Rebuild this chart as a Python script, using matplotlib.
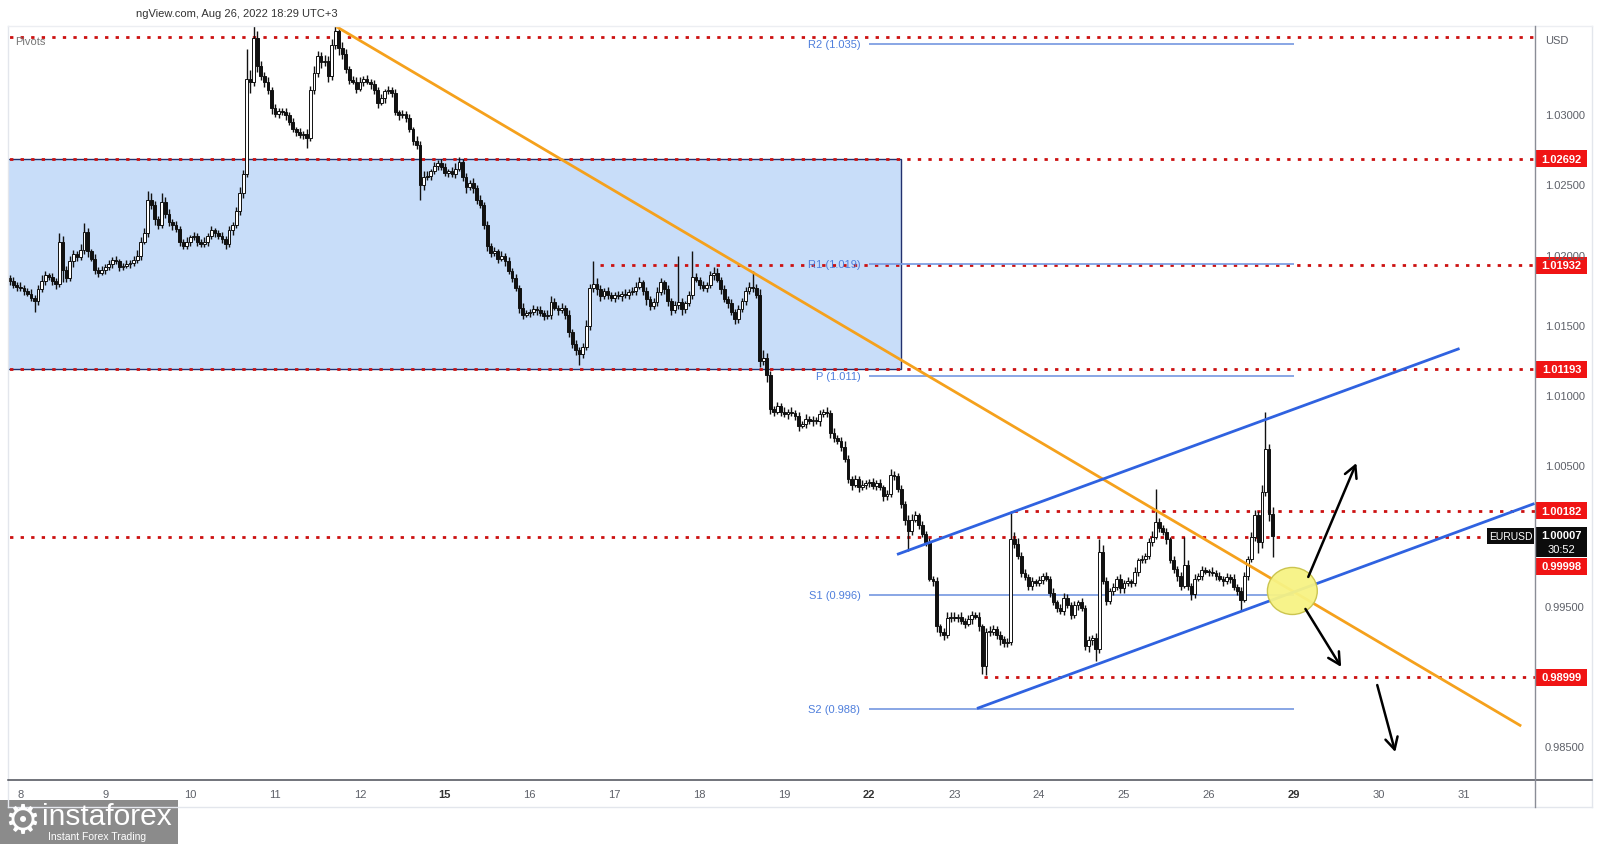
import numpy as np
import matplotlib
matplotlib.use('Agg')
import matplotlib.pyplot as plt
from matplotlib.patches import Rectangle, Ellipse
from matplotlib.lines import Line2D

plt.rcParams['font.family'] = ['Liberation Sans', 'DejaVu Sans']

# ---------------- data (EURUSD H1, prices in pips above 1.0000) ----------------
first_open = 184
closes_aug05 = [182, 179, 178]
closes_aug08 = [177, 175, 173, 170, 168, 176, 182, 186, 185, 182, 180, 210, 190, 184, 196, 201, 199, 204, 217, 203, 198, 190, 188, 190]
closes_aug09 = [192, 194, 197, 196, 192, 193, 194, 195, 197, 200, 210, 216, 240, 236, 226, 222, 238, 230, 224, 222, 219, 210, 207, 210]
closes_aug10 = [213, 214, 210, 208, 210, 214, 218, 216, 214, 212, 208, 218, 222, 232, 245, 258, 326, 324, 355, 335, 328, 324, 318, 305]
closes_aug11 = [301, 303, 302, 300, 295, 290, 288, 286, 287, 284, 318, 330, 342, 338, 339, 328, 350, 360, 348, 344, 333, 325, 324, 319]
closes_aug12 = [324, 326, 324, 322, 318, 309, 312, 317, 318, 316, 302, 300, 301, 298, 290, 282, 279, 250, 256, 257, 260, 264, 266, 263]
closes_aug15 = [259, 260, 258, 262, 267, 256, 249, 252, 248, 240, 236, 222, 207, 202, 203, 198, 200, 196, 189, 184, 177, 163, 158, 159]
closes_aug16 = [160, 162, 161, 159, 157, 158, 167, 163, 161, 163, 158, 146, 137, 133, 130, 135, 150, 177, 180, 176, 171, 175, 172, 170]
closes_aug17 = [172, 171, 173, 172, 174, 175, 178, 181, 175, 169, 164, 167, 174, 181, 176, 168, 161, 165, 167, 162, 166, 172, 185, 183]
closes_aug18 = [179, 177, 179, 186, 188, 183, 176, 169, 166, 160, 155, 162, 168, 175, 178, 177, 172, 125, 127, 115, 91, 89, 93, 89]
closes_aug19 = [87, 89, 88, 86, 79, 80, 84, 82, 83, 82, 87, 89, 88, 74, 70, 68, 64, 55, 41, 37, 41, 35, 37, 38]
closes_aug22 = [39, 36, 38, 35, 29, 30, 44, 43, 34, 23, 12, 4, 12, 15, 8, 2, -4, -30, -32, -64, -68, -70, -58, -57]
closes_aug23 = [-58, -57, -60, -62, -59, -56, -57, -64, -92, -68, -68, -66, -70, -73, -76, -75, -2, -5, -14, -26, -29, -35, -32, -33]
closes_aug24 = [-31, -28, -30, -40, -47, -51, -53, -44, -49, -56, -49, -47, -51, -78, -74, -72, -80, -11, -32, -46, -39, -36, -30, -37]
closes_aug25 = [-33, -32, -33, -25, -17, -16, -14, -4, 0, 10, 6, 3, -2, -17, -23, -28, -35, -20, -35, -41, -30, -28, -24, -25]
closes_aug26 = [-25, -26, -28, -30, -32, -29, -30, -36, -39, -45, -28, -16, 0, 15, -4, 32, 62, 16, 0.7]

upper_aug05 = [2, 3, 2]
upper_aug08 = [3, 2, 2, 3, 2, 3, 4, 3, 2, 3, 2, 6, 4, 3, 4, 3, 2, 4, 6, 3, 2, 3, 2, 3]
upper_aug09 = [2, 3, 2, 3, 2, 2, 3, 2, 3, 4, 3, 4, 6, 5, 3, 2, 7, 4, 3, 2, 3, 2, 2, 3]
upper_aug10 = [2, 3, 2, 2, 3, 2, 3, 2, 2, 3, 2, 3, 2, 3, 4, 3, 21, 6, 9, 5, 4, 3, 3, 2]
upper_aug11 = [3, 2, 2, 3, 2, 3, 2, 3, 2, 3, 3, 5, 4, 3, 4, 3, 4, 5, 3, 4, 3, 2, 3, 3]
upper_aug12 = [3, 2, 3, 2, 3, 2, 3, 2, 3, 2, 3, 2, 3, 2, 3, 2, 3, 3, 4, 3, 2, 3, 2, 3]
upper_aug15 = [3, 2, 3, 4, 3, 2, 3, 2, 3, 2, 3, 2, 3, 2, 3, 2, 3, 2, 3, 2, 3, 2, 3, 2]
upper_aug16 = [2, 3, 2, 3, 2, 3, 4, 3, 2, 3, 2, 3, 2, 3, 2, 3, 4, 3, 16, 4, 3, 2, 3, 2]
upper_aug17 = [2, 3, 2, 3, 2, 3, 3, 4, 2, 3, 2, 3, 4, 3, 2, 3, 2, 3, 33, 3, 2, 3, 18, 3]
upper_aug18 = [2, 3, 2, 3, 4, 3, 2, 3, 2, 3, 2, 3, 2, 3, 3, 11, 3, 4, 6, 4, 3, 2, 3, 2]
upper_aug19 = [3, 2, 3, 2, 3, 2, 3, 2, 3, 2, 3, 2, 3, 2, 3, 2, 3, 4, 3, 2, 3, 2, 3, 2]
upper_aug22 = [2, 3, 2, 3, 2, 3, 4, 3, 2, 3, 2, 3, 4, 3, 2, 3, 2, 3, 2, 3, 2, 3, 4, 3]
upper_aug23 = [3, 2, 3, 2, 3, 3, 2, 3, 2, 3, 4, 3, 2, 3, 2, 3, 20, 5, 4, 3, 3, 2, 3, 2]
upper_aug24 = [3, 2, 3, 2, 3, 2, 3, 4, 3, 2, 3, 2, 3, 2, 3, 2, 3, 9, 5, 3, 2, 3, 2, 3]
upper_aug25 = [2, 3, 2, 3, 2, 3, 2, 3, 4, 24, 3, 2, 3, 2, 3, 2, 3, 20, 3, 2, 3, 2, 3, 2]
upper_aug26 = [2, 3, 2, 3, 2, 3, 2, 3, 2, 3, 3, 2, 3, 4, 3, 5, 27, 4, 5]

lower_aug05 = [3, 2, 3]
lower_aug08 = [2, 3, 2, 2, 8, 3, 2, 3, 2, 3, 4, 2, 9, 3, 2, 4, 3, 2, 3, 4, 2, 3, 3, 2]
lower_aug09 = [3, 2, 3, 2, 3, 2, 2, 3, 2, 2, 3, 2, 3, 3, 4, 3, 2, 3, 3, 4, 2, 3, 2, 2]
lower_aug10 = [3, 2, 3, 2, 2, 3, 2, 3, 2, 3, 3, 2, 3, 2, 3, 4, 2, 8, 3, 4, 3, 4, 3, 4]
lower_aug11 = [2, 3, 2, 3, 2, 2, 3, 2, 3, 7, 2, 3, 3, 4, 3, 4, 3, 3, 5, 4, 3, 3, 2, 3]
lower_aug12 = [2, 3, 2, 3, 3, 4, 2, 3, 2, 3, 2, 3, 2, 3, 2, 3, 3, 10, 3, 2, 3, 2, 3, 2]
lower_aug15 = [2, 3, 2, 3, 2, 3, 4, 2, 3, 3, 2, 3, 4, 3, 2, 3, 2, 3, 2, 3, 2, 4, 3, 2]
lower_aug16 = [3, 2, 3, 2, 3, 2, 3, 2, 3, 2, 3, 4, 3, 4, 8, 3, 2, 3, 3, 4, 3, 2, 3, 2]
lower_aug17 = [3, 2, 3, 2, 3, 2, 3, 2, 3, 4, 3, 2, 3, 2, 3, 4, 3, 2, 3, 4, 3, 2, 3, 2]
lower_aug18 = [3, 2, 3, 2, 3, 2, 3, 2, 3, 2, 4, 3, 2, 3, 2, 3, 2, 4, 3, 5, 4, 3, 2, 3]
lower_aug19 = [2, 3, 2, 3, 4, 2, 3, 2, 3, 2, 3, 2, 3, 4, 3, 2, 3, 2, 3, 4, 2, 3, 2, 3]
lower_aug22 = [3, 2, 3, 2, 4, 3, 2, 3, 2, 3, 4, 14, 3, 2, 3, 2, 3, 2, 3, 4, 3, 4, 2, 3]
lower_aug23 = [2, 3, 2, 3, 2, 3, 2, 3, 6, 7, 3, 2, 3, 4, 3, 3, 2, 3, 2, 3, 2, 3, 3, 2]
lower_aug24 = [2, 3, 2, 3, 2, 3, 2, 3, 2, 3, 2, 3, 2, 3, 4, 3, 9, 3, 2, 3, 2, 3, 2, 3]
lower_aug25 = [3, 2, 3, 2, 3, 2, 3, 2, 3, 2, 3, 2, 3, 2, 3, 4, 3, 2, 3, 4, 3, 2, 3, 2]
lower_aug26 = [3, 2, 3, 2, 3, 2, 3, 2, 3, 7, 2, 3, 2, 3, 8, 4, 3, 5, 15]

day_labels = ['8', '9', '10', '11', '12', '15', '16', '17', '18', '19',
              '22', '23', '24', '25', '26', '29', '30', '31']
week_start_labels = ['15', '22', '29']
price_ticks = [1.030, 1.025, 1.020, 1.015, 1.010, 1.005, 0.995, 0.985]

level_prices = [1.0356, 1.02692, 1.01932, 1.01193, 1.00182, 0.99998, 0.98999]
level_starts = [-10, -10, 164, -10, 281, -10, 272.5]          # hours
level_labels = ['', '1.02692', '1.01932', '1.01193', '1.00182', '0.99998', '0.98999']

pivot_names = ['R2 (1.035)', 'R1 (1.019)', 'P (1.011)', 'S1 (0.996)', 'S2 (0.988)']
pivot_values = [1.0351, 1.0194, 1.0114, 0.9958, 0.9877]

last_price = '1.00007'
countdown = '30:52'

# ---------------- assemble candles ----------------
closes = (closes_aug05 + closes_aug08 + closes_aug09 + closes_aug10 + closes_aug11 + closes_aug12 +
          closes_aug15 + closes_aug16 + closes_aug17 + closes_aug18 + closes_aug19 +
          closes_aug22 + closes_aug23 + closes_aug24 + closes_aug25 + closes_aug26)
uppers = (upper_aug05 + upper_aug08 + upper_aug09 + upper_aug10 + upper_aug11 + upper_aug12 +
          upper_aug15 + upper_aug16 + upper_aug17 + upper_aug18 + upper_aug19 +
          upper_aug22 + upper_aug23 + upper_aug24 + upper_aug25 + upper_aug26)
lowers = (lower_aug05 + lower_aug08 + lower_aug09 + lower_aug10 + lower_aug11 + lower_aug12 +
          lower_aug15 + lower_aug16 + lower_aug17 + lower_aug18 + lower_aug19 +
          lower_aug22 + lower_aug23 + lower_aug24 + lower_aug25 + lower_aug26)

c = np.array(closes, dtype=float)
o = np.concatenate([[first_open], c[:-1]])
hi = np.maximum(o, c) + np.array(uppers)
lo = np.minimum(o, c) - np.array(lowers)
hours = np.arange(len(c)) - len(closes_aug05)

P = lambda v: 1 + np.asarray(v, dtype=float) / 1e4
O, C, Hh, L = P(o), P(c), P(hi), P(lo)

# ---------------- figure ----------------
W, H = 1600, 845
fig = plt.figure(figsize=(16, 8.45), dpi=100)
fig.patch.set_facecolor('white')

def fx(px):
    return px / W

def fy(py):
    return 1 - py / H

ax = fig.add_axes([fx(8), fy(781), fx(1535) - fx(8), fy(27) - fy(781)])
ax.set_xlim(-3.5, 428.2)
ax.set_ylim(0.982657, 1.036360)
ax.axis('off')

# blue zone
ax.add_patch(Rectangle((-10, 1.01193), 259, 1.02692 - 1.01193, facecolor='#c8ddf9',
                       edgecolor='#22306e', lw=1.0, zorder=1))

# red dotted levels
for p, s in zip(level_prices, level_starts):
    ax.hlines(p, s, 440, colors='#cc1111', linestyles=(0, (1.2, 2.6)), lw=2.0, zorder=2)

# pivots
ax.hlines(pivot_values, 240, 360, colors='#7f9fe3', lw=1.3, zorder=2)
for name, v in zip(pivot_names, pivot_values):
    ax.text(237.5, v, name, ha='right', va='center', fontsize=8, color='#4f7fdc', zorder=3)

# candles
up = C >= O
body_bot = np.minimum(O, C)
body_h = np.maximum(np.abs(C - O), 0.00004)
ax.vlines(hours, L, Hh, colors='#111111', lw=1.0, zorder=4)
ax.bar(hours[up], body_h[up], bottom=body_bot[up], width=0.8, color='white',
       edgecolor='#111111', lw=0.7, zorder=5)
ax.bar(hours[~up], body_h[~up], bottom=body_bot[~up], width=0.8, color='#111111',
       edgecolor='#111111', lw=0.7, zorder=5)

# trend line and channel
ax.plot([89.3, 424.3], [1.03632, 0.98650], color='#f5a11c', lw=2.0, zorder=6,
        solid_capstyle='butt')
ax.plot([248.2, 406.5], [0.998754, 1.013355], color='#2f62e0', lw=2.0, zorder=6)
ax.plot([270.8, 427.7], [0.987785, 1.002315], color='#2f62e0', lw=2.0, zorder=6)

# highlight ellipse
ax.add_patch(Ellipse((359.6, 0.99612), 14.1, 0.00335, facecolor='#f7f384',
                     edgecolor='#c9c24a', lw=1.0, zorder=7, alpha=0.95))

# scenario arrows
arrows = [((364.1, 0.99712), (377.7, 1.00523)),
          ((363.3, 0.99484), (373.4, 0.99071)),
          ((383.6, 0.98942), (388.7, 0.98465))]
for start, end in arrows:
    ax.annotate('', xy=end, xytext=start, zorder=8,
                arrowprops=dict(arrowstyle='->,head_length=0.85,head_width=0.45',
                                lw=1.8, color='black', shrinkA=0, shrinkB=0))

fig.canvas.draw()

def ypx(price):
    """pixel row (from top) of a price."""
    return H - ax.transData.transform((0, price))[1]

def xpx(hour):
    return ax.transData.transform((hour, 1.0))[0]

# frame lines
def fig_line(x0, y0, x1, y1, color, lw):
    fig.add_artist(Line2D([fx(x0), fx(x1)], [fy(y0), fy(y1)], color=color, lw=lw,
                          transform=fig.transFigure))

fig_line(8, 27, 8, 808, '#e3e6ec', 1.0)
fig_line(1592, 27, 1592, 808, '#e3e6ec', 1.0)
fig_line(8, 808, 1592, 808, '#e3e6ec', 1.0)
fig_line(8, 27, 1592, 27, '#eceef2', 1.0)
fig_line(8, 781, 1592, 781, '#4a4d56', 1.1)
fig_line(1535, 27, 1535, 808, '#8a8d96', 1.0)

# date labels
for i, lab in enumerate(day_labels):
    xp = xpx(24 * i)
    bold = lab in week_start_labels
    fig.text(fx(xp), fy(795), lab, ha='center', va='center', fontsize=8,
             color='#333333' if bold else '#5d6068',
             fontweight='bold' if bold else 'normal')

# price scale labels
for t in price_ticks:
    fig.text(fx(1545), fy(ypx(t)), f'{t:.5f}', ha='left', va='center', fontsize=8,
             color='#5d6068')
fig.text(fx(1545), fy(41), 'USD', ha='left', va='center', fontsize=8, color='#5d6068')

# red level labels
for p, lab in zip(level_prices, level_labels):
    if not lab:
        continue
    yc = ypx(p)
    if lab == '0.99998':
        yc = 567
    fig.add_artist(Rectangle((fx(1536), fy(yc + 8.5)), fx(51), 17 / H, facecolor='#f01414',
                             edgecolor='none', transform=fig.transFigure))
    fig.text(fx(1561.5), fy(yc), lab, ha='center', va='center', fontsize=8,
             color='white', fontweight='bold')

# last price box
fig.add_artist(Rectangle((fx(1536), fy(558)), fx(51), 30 / H, facecolor='#0c0c0c',
                         edgecolor='none', transform=fig.transFigure))
fig.text(fx(1561.5), fy(536.5), last_price, ha='center', va='center', fontsize=8,
         color='white', fontweight='bold')
fig.text(fx(1548), fy(550.5), countdown, ha='left', va='center', fontsize=8, color='white')
fig.add_artist(Rectangle((fx(1487), fy(545)), fx(47), 16 / H, facecolor='#0c0c0c',
                         edgecolor='none', transform=fig.transFigure))
fig.text(fx(1510.5), fy(537), 'EURUSD', ha='center', va='center', fontsize=7.5, color='white')

# header texts
fig.text(fx(136), fy(14), 'ngView.com, Aug 26, 2022 18:29 UTC+3', ha='left', va='center',
         fontsize=8, color='#333333')
fig.text(fx(15), fy(42), 'Pivots', ha='left', va='center', fontsize=8, color='#777777')

# watermark logo
fig.add_artist(Rectangle((0, 0), fx(178), 44 / H, facecolor='#8b8b8b', edgecolor='none',
                         transform=fig.transFigure))
fig.text(fx(22), fy(822), '\u2699', ha='center', va='center', fontsize=29, color='white',
         family='DejaVu Sans')
fig.text(fx(42), fy(817), 'instaforex', ha='left', va='center', fontsize=21.5, color='white')
fig.text(fx(48), fy(837), 'Instant Forex Trading', ha='left', va='center', fontsize=7.5,
         color='white')

fig.savefig('out.png', dpi=100, facecolor='white')
